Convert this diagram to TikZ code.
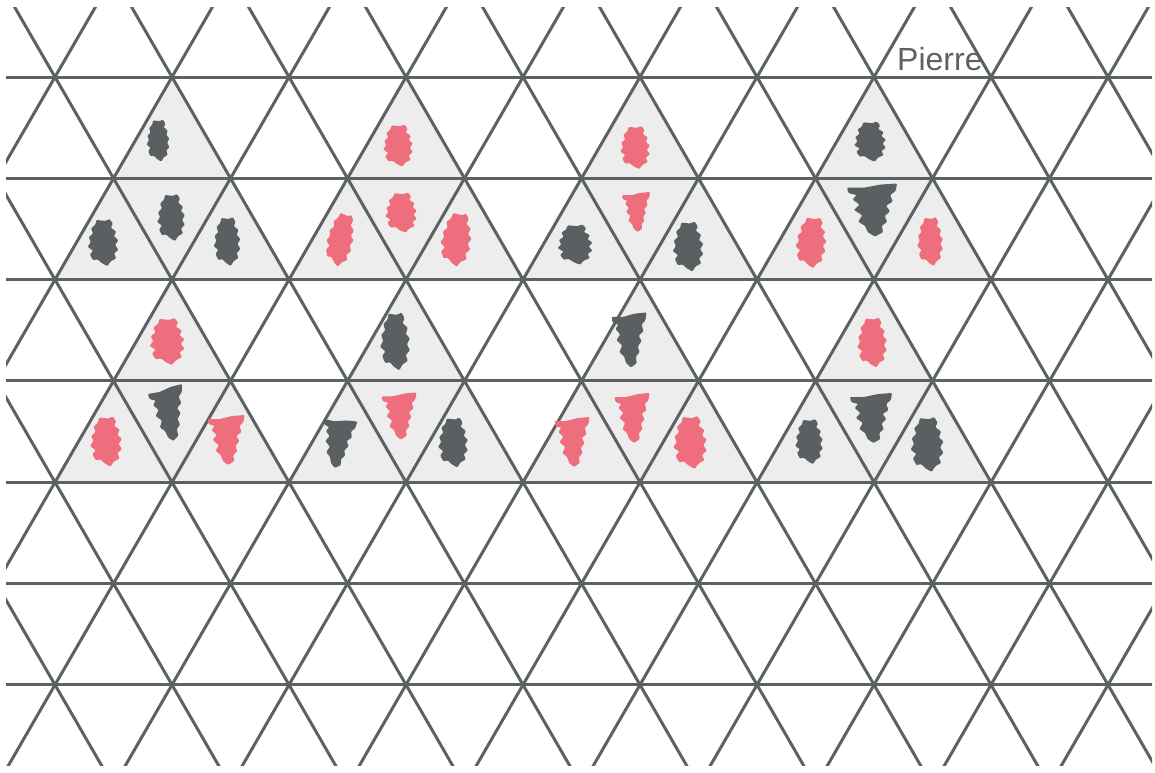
\documentclass[tikz,border=0pt]{standalone}
\usepackage{fontspec}
\newfontfamily\sigfont{Liberation Sans}
\definecolor{gridgray}{RGB}{92,97,99}
\definecolor{pinkred}{RGB}{238,110,125}
\definecolor{darkblob}{RGB}{90,95,97}
\definecolor{tribg}{RGB}{237,237,237}
\tikzset{
  gridline/.style={draw=gridgray, line width=3pt},
  trifill/.style={fill=tribg},
  blobV/.pic={\fill[rounded corners=1pt] (-6,-24) -- (2,-23) -- (6,-25) -- (9,-20) -- (7,-16) -- (12,-12) -- (10,-7) -- (14,-3) -- (11,2) -- (14,7) -- (10,11) -- (12,16) -- (7,19) -- (4,24) -- (-1,21) -- (-5,17) -- (-9,18) -- (-12,12) -- (-9,8) -- (-14,4) -- (-11,-1) -- (-13,-6) -- (-9,-10) -- (-11,-15) -- (-7,-19) -- cycle;},
  blobT/.pic={\fill[rounded corners=1pt] (-18,-21) -- (-6,-21) -- (6,-24) -- (18,-25) -- (17,-18) -- (13,-14) -- (15,-8) -- (10,-4) -- (13,1) -- (9,6) -- (11,11) -- (7,15) -- (8,21) -- (2,25) -- (-3,21) -- (-5,15) -- (-10,11) -- (-7,5) -- (-13,0) -- (-9,-5) -- (-14,-10) -- (-11,-14) -- (-17,-16) -- cycle;}
}
\newcommand\blb[7]{\pic[color=#2,xscale=#5,yscale=#6,rotate=#7] at (#3,#4) {#1};}
\begin{document}
\begin{tikzpicture}[x=1pt,y=-1pt]
\useasboundingbox (0,0) rectangle (1155,772);
% shaded groups
\foreach \ax in {172,406,640,874}{
  \foreach \ay in {77,279.6}{
    \path[trifill] (\ax,\ay) -- ++(117,202.6) -- ++(-234,0) -- cycle;
  }}
% grid
\begin{scope}
\clip (6,7) rectangle (1152,765);
\foreach \r in {0,...,6} \draw[gridline] (0,77+\r*101.3) -- (1155,77+\r*101.3);
\foreach \k in {-5,...,10} \draw[gridline] (55+\k*117-117,77-202.6) -- (55+\k*117+468,77+810.4);
\foreach \k in {-2,...,14} \draw[gridline] (55+\k*117+117,77-202.6) -- (55+\k*117-468,77+810.4);
\end{scope}
% upper groups
\blb{blobV}{darkblob}{158}{141}{.82}{.86}{0}
\blb{blobV}{darkblob}{171}{218}{1.0}{.96}{0}
\blb{blobV}{darkblob}{103}{243}{1.1}{.96}{0}
\blb{blobV}{darkblob}{227}{242}{.96}{1.0}{0}
\blb{blobV}{pinkred}{398}{146}{1.07}{.86}{0}
\blb{blobV}{pinkred}{401}{213}{1.14}{.82}{0}
\blb{blobV}{pinkred}{340}{240}{.95}{1.1}{-15}
\blb{blobV}{pinkred}{456}{240}{1.1}{1.1}{-8}
\blb{blobV}{pinkred}{635}{148}{1.07}{.88}{0}
\blb{blobT}{pinkred}{636}{212}{.78}{.8}{0}
\blb{blobV}{darkblob}{575}{245}{1.25}{.82}{0}
\blb{blobV}{darkblob}{688}{247}{1.1}{1.02}{0}
\blb{blobV}{darkblob}{870}{142}{1.14}{.82}{0}
\blb{blobT}{darkblob}{872}{210}{1.39}{1.06}{0}
\blb{blobV}{pinkred}{811}{243}{1.1}{1.04}{-5}
\blb{blobV}{pinkred}{930}{242}{.93}{1.0}{0}
% lower groups
\blb{blobV}{pinkred}{167}{342}{1.25}{.96}{0}
\blb{blobT}{darkblob}{168}{414}{.97}{1.1}{8}
\blb{blobV}{pinkred}{106}{442}{1.14}{1.02}{0}
\blb{blobT}{pinkred}{226}{440}{1.03}{1.0}{0}
\blb{blobV}{darkblob}{395}{342}{1.07}{1.18}{0}
\blb{blobT}{pinkred}{399}{416}{.97}{.94}{0}
\blb{blobT}{darkblob}{337}{443}{.92}{1.0}{-10}
\blb{blobV}{darkblob}{453}{443}{1.07}{1.02}{0}
\blb{blobT}{darkblob}{629}{340}{.97}{1.1}{0}
\blb{blobT}{pinkred}{632}{418}{.97}{1.0}{0}
\blb{blobT}{pinkred}{572}{442}{.97}{1.0}{0}
\blb{blobV}{pinkred}{690}{443}{1.2}{1.08}{0}
\blb{blobV}{pinkred}{872}{343}{1.07}{1.02}{0}
\blb{blobT}{darkblob}{871}{418}{1.17}{1.0}{0}
\blb{blobV}{darkblob}{809}{442}{1.0}{.92}{0}
\blb{blobV}{darkblob}{927}{445}{1.18}{1.12}{0}
% signature
\node[anchor=base west, inner sep=0pt, text=gridgray, font=\sigfont\fontsize{32}{32}\selectfont] (sig) at (897,70) {Pierre};
\end{tikzpicture}
\end{document}
